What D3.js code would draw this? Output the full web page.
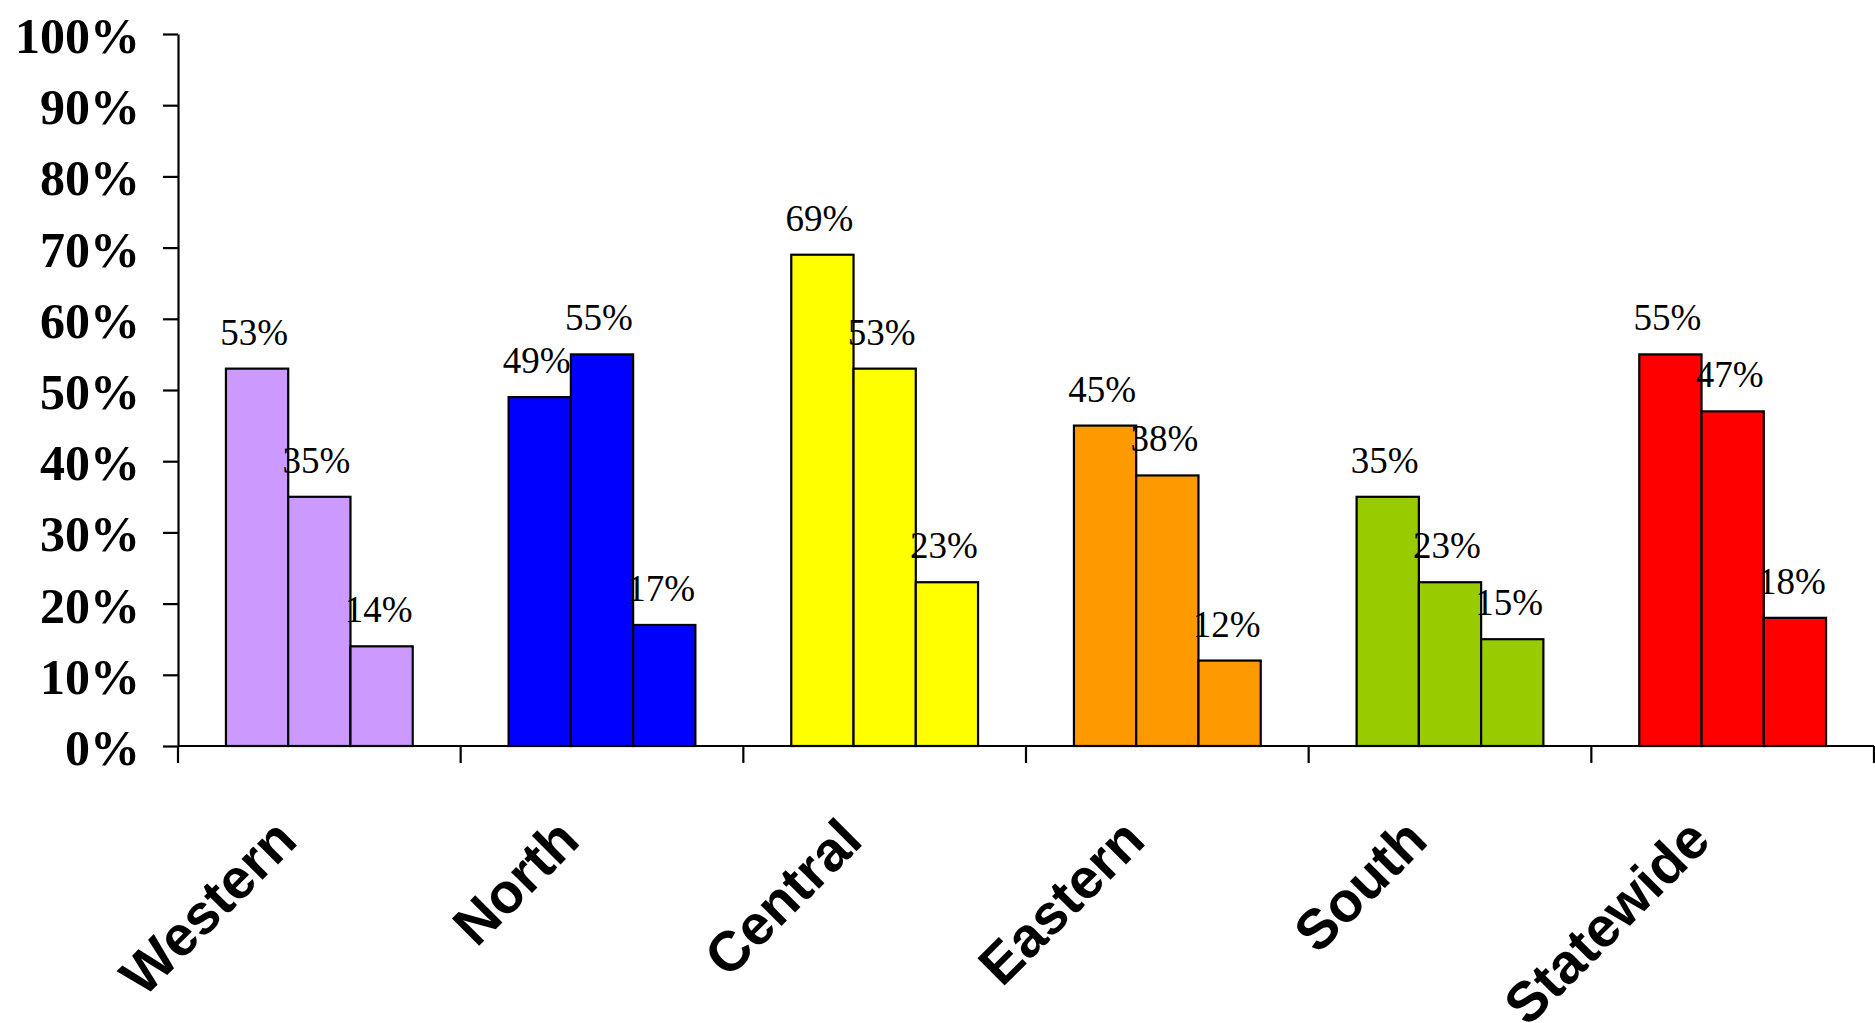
<!DOCTYPE html>
<html>
<head>
<meta charset="utf-8">
<script src="https://cdn.jsdelivr.net/npm/d3@7"></script>
<style>
  html, body { margin: 0; padding: 0; background: #fff; }
  svg { display: block; }
</style>
</head>
<body>
<svg id="chart" width="1875" height="1023"></svg>
<script>
const categories = ["Western", "North", "Central", "Eastern", "South", "Statewide"];
const series1 = [0.53, 0.49, 0.69, 0.45, 0.35, 0.55];
const series2 = [0.35, 0.55, 0.53, 0.38, 0.23, 0.47];
const series3 = [0.14, 0.17, 0.23, 0.12, 0.15, 0.18];
const categoryColors = ["#CC99FF", "#0000FF", "#FFFF00", "#FF9900", "#99CC00", "#FF0000"];
const yTicks = [0, 0.1, 0.2, 0.3, 0.4, 0.5, 0.6, 0.7, 0.8, 0.9, 1.0];

const seriesList = [series1, series2, series3];
const svg = d3.select("#chart");

const y = d3.scaleLinear().domain([0, 1]).range([746, 34]);
const x0 = d3.scaleBand().domain(categories).range([178, 1874]).paddingInner(0).paddingOuter(0);
const x1 = d3.scaleBand().domain([0, 1, 2]).range([0, x0.bandwidth()]).paddingInner(0).paddingOuter(0.77);

const fmt = d3.format(".0%");

// Bars
const groups = svg.append("g").selectAll("g")
  .data(categories)
  .join("g")
  .attr("transform", d => `translate(${x0(d)},0)`);

groups.each(function(cat, ci) {
  const g = d3.select(this);
  seriesList.forEach((s, si) => {
    g.append("rect")
      .attr("x", x1(si))
      .attr("y", y(s[ci]))
      .attr("width", x1.bandwidth())
      .attr("height", y(0) - y(s[ci]))
      .attr("fill", categoryColors[ci])
      .attr("stroke", "#000")
      .attr("stroke-width", 2.2);
  });
});

// Data labels (on top of bars)
groups.each(function(cat, ci) {
  const g = d3.select(this);
  seriesList.forEach((s, si) => {
    g.append("text")
      .attr("x", x1(si) + x1.bandwidth() / 2 - 3)
      .attr("y", y(s[ci]) - 24)
      .attr("text-anchor", "middle")
      .attr("font-family", "'Liberation Serif', 'Times New Roman', serif")
      .attr("font-size", 37)
      .attr("fill", "#000")
      .text(fmt(s[ci]));
  });
});

// Y axis
const yAxis = d3.axisLeft(y)
  .tickValues(yTicks)
  .tickFormat(fmt)
  .tickSize(15)
  .tickSizeOuter(0)
  .tickPadding(23);

const yg = svg.append("g")
  .attr("transform", "translate(178,0)")
  .call(yAxis);
yg.select(".domain").attr("stroke", "#000").attr("stroke-width", 2.2);
yg.selectAll(".tick line").attr("stroke", "#000").attr("stroke-width", 2.2);
yg.selectAll(".tick text")
  .attr("font-family", "'Liberation Serif', 'Times New Roman', serif")
  .attr("font-weight", "bold")
  .attr("font-size", 50)
  .attr("fill", "#000")
  .attr("dy", "0.37em");

// X axis line
svg.append("line")
  .attr("x1", x0.range()[0]).attr("x2", x0.range()[1])
  .attr("y1", y(0)).attr("y2", y(0))
  .attr("stroke", "#000").attr("stroke-width", 2.2);

// X ticks at band boundaries
const boundaries = categories.map(c => x0(c)).concat([x0.range()[1]]);
svg.append("g").selectAll("line")
  .data(boundaries)
  .join("line")
  .attr("x1", d => d).attr("x2", d => d)
  .attr("y1", y(0)).attr("y2", y(0) + 17)
  .attr("stroke", "#000").attr("stroke-width", 2.2);

// X category labels rotated
svg.append("g").selectAll("text")
  .data(categories)
  .join("text")
  .attr("transform", d => `translate(${x0(d) + x0.bandwidth() / 2 - 20},843) rotate(-45)`)
  .attr("text-anchor", "end")
  .attr("font-family", "'Liberation Sans', Arial, sans-serif")
  .attr("font-weight", "bold")
  .attr("font-size", 56)
  .attr("fill", "#000")
  .text(d => d);
</script>
</body>
</html>
